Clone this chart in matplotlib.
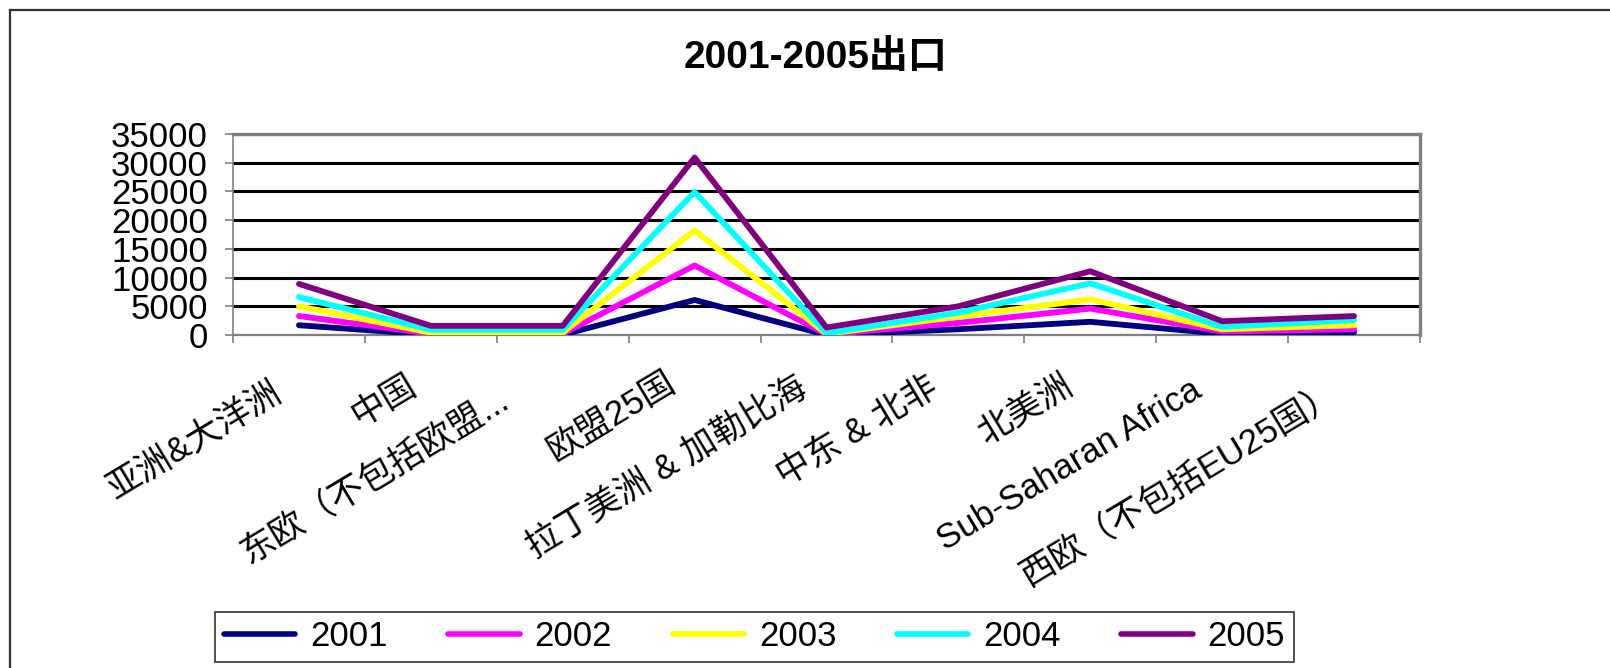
import matplotlib
matplotlib.use("Agg")
import matplotlib.pyplot as plt
from matplotlib.lines import Line2D
import numpy as np

plt.rcParams['font.family'] = ['Liberation Sans', 'Noto Sans CJK SC', 'DejaVu Sans']

# ---------------- data ----------------
categories = ['亚洲&大洋洲', '中国', '东欧（不包括欧盟...', '欧盟25国',
              '拉丁美洲 & 加勒比海', '中东 & 北非', '北美洲',
              'Sub-Saharan Africa', '西欧（不包括EU25国）']
years = ['2001', '2002', '2003', '2004', '2005']
y2001 = [1700, 50, 50, 6100, 0, 1000, 2300, 200, 500]
y2002 = [3300, 200, 200, 12100, 100, 2100, 4600, 600, 1000]
y2003 = [5000, 400, 400, 18200, 200, 3200, 6200, 1000, 1700]
y2004 = [6600, 900, 900, 24900, 300, 3900, 9000, 1400, 2600]
y2005 = [8900, 1600, 1600, 30900, 1300, 5000, 11100, 2400, 3300]
yticks = [0, 5000, 10000, 15000, 20000, 25000, 30000, 35000]
title = '2001-2005出口'

series = [y2001, y2002, y2003, y2004, y2005]
colors = ['#000080', '#FF00FF', '#FFFF00', '#00FFFF', '#800080']

# label anchor offsets (pixels) relative to category centre / axis bottom
label_dx = [-29, -26, -65, -31, -31, -32, -28, -32, -25]
label_dy = [41, 33, 49, 30, 36, 36, 33, 38, 42]

W, H = 1610, 668
fig = plt.figure(figsize=(W / 100, H / 100), dpi=100)
ax = fig.add_axes([233 / W, 1 - 335 / H, (1420 - 233) / W, (335 - 134) / H])

x = np.arange(len(categories))
for yr, vals, c in zip(years, series, colors):
    ax.plot(x, vals, color=c, lw=4.2, label=yr,
            solid_capstyle='round', solid_joinstyle='round', zorder=3)

ax.set_xlim(-0.5, len(categories) - 0.5)
ax.set_ylim(0, 35000)
ax.set_yticks(yticks)
ax.set_yticklabels([str(v) for v in yticks], fontsize=25)
ax.tick_params(axis='y', direction='out', length=6, width=1.2,
               color='#808080', pad=12)
ax.set_xticks(x)
ax.set_xticklabels([''] * len(categories))
ax.tick_params(axis='x', which='major', length=0)
ax.set_xticks(np.arange(-0.5, len(categories), 1.0), minor=True)
ax.tick_params(axis='x', which='minor', direction='out', length=6,
               width=1.2, color='#808080')

ax.set_axisbelow(True)
ax.yaxis.grid(True, color='black', lw=2.2)

for s in ['top', 'right']:
    ax.spines[s].set_color('#808080')
    ax.spines[s].set_linewidth(2.4)
ax.spines['left'].set_color('#808080')
ax.spines['left'].set_linewidth(1.2)
ax.spines['bottom'].set_color('#808080')
ax.spines['bottom'].set_linewidth(1.6)

# category labels
for i, lab in enumerate(categories):
    ax.annotate(lab, xy=(i, 0), xycoords=('data', 'axes fraction'),
                xytext=(label_dx[i] * 0.72, -label_dy[i] * 0.72),
                textcoords='offset points', ha='right', va='top',
                rotation=31, rotation_mode='anchor', fontsize=25,
                annotation_clip=False)

fig.text(815 / W, 1 - 58 / H, title, ha='center', va='center',
         fontsize=28, fontweight='bold')

leg = fig.legend(loc='center', bbox_to_anchor=(754.5 / W, 1 - 637 / H),
                 ncol=5, fontsize=25, handlelength=2.05, handletextpad=0.43,
                 columnspacing=1.75, frameon=True, fancybox=False,
                 edgecolor='black', borderpad=0.25)
leg.get_frame().set_linewidth(1.2)
for h in leg.get_lines():
    h.set_linewidth(4.0)

# outer frame (left and top edges)
fig.add_artist(Line2D([10 / W, 10 / W], [0, 1 - 10 / H], transform=fig.transFigure,
                      color='#333333', lw=1.6))
fig.add_artist(Line2D([10 / W, 1], [1 - 10 / H, 1 - 10 / H], transform=fig.transFigure,
                      color='#333333', lw=1.6))

fig.savefig('out.png', dpi=100)
